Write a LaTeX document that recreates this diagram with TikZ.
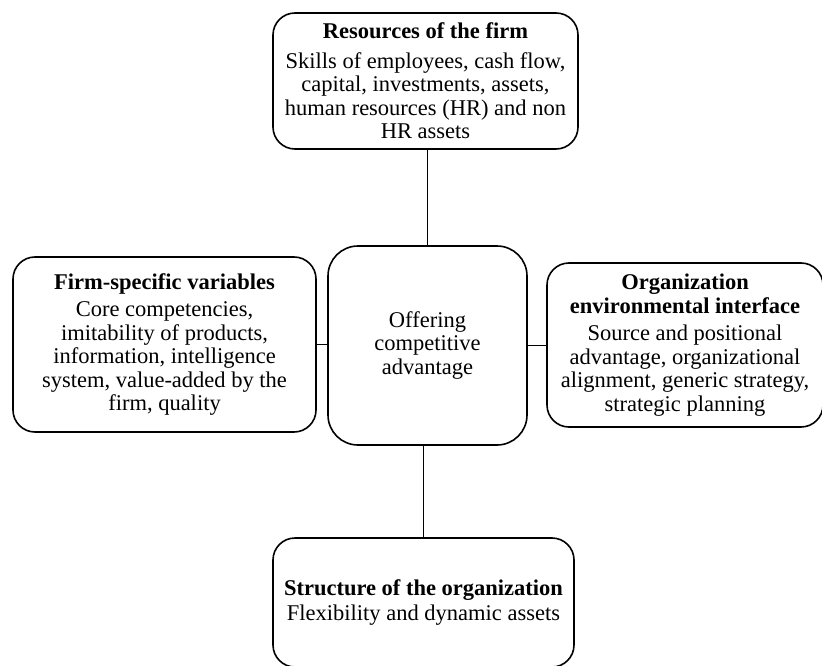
\documentclass[tikz,border=0pt]{standalone}
\usepackage{fontspec}
\setmainfont{Liberation Serif}
\begin{document}
\begin{tikzpicture}[x=1pt,y=-1pt,
  box/.style={draw, line width=1.6pt, rounded corners=22pt, inner sep=0pt, align=center,
    font=\fontsize{22.5}{23.5}\selectfont},
  link/.style={draw, line width=1.5pt}]
\useasboundingbox (0,0) rectangle (822,666);
\node[box, minimum width=305pt, minimum height=136pt] (res) at (425.5,81)
  {\textbf{Resources of the firm}\\[6pt]Skills of employees, cash flow,\\capital, investments, assets,\\human resources (HR) and non\\HR assets};
\node[box, minimum width=199pt, minimum height=199pt, rounded corners=30pt] (off) at (427.5,345.5)
  {Offering\\competitive\\advantage};
\node[box, minimum width=303pt, minimum height=175pt] (firm) at (164.5,344.5)
  {\textbf{Firm-specific variables}\\[4pt]Core competencies,\\imitability of products,\\information, intelligence\\system, value-added by the\\firm, quality};
\node[box, minimum width=276pt, minimum height=164pt] (org) at (685,345)
  {\textbf{Organization}\\\textbf{environmental interface}\\[4pt]Source and positional\\advantage, organizational\\alignment, generic strategy,\\strategic planning};
\node[box, minimum width=301pt, minimum height=129pt] (str) at (423.5,602.5)
  {\textbf{Structure of the organization}\\[2pt]Flexibility and dynamic assets};
\draw[link] (off.north) -- (off.north |- res.south);
\draw[link] (str.north) -- (str.north |- off.south);
\draw[link] (firm.east) -- (firm.east -| off.west);
\draw[link] (off.east) -- (off.east -| org.west);
\end{tikzpicture}
\end{document}
